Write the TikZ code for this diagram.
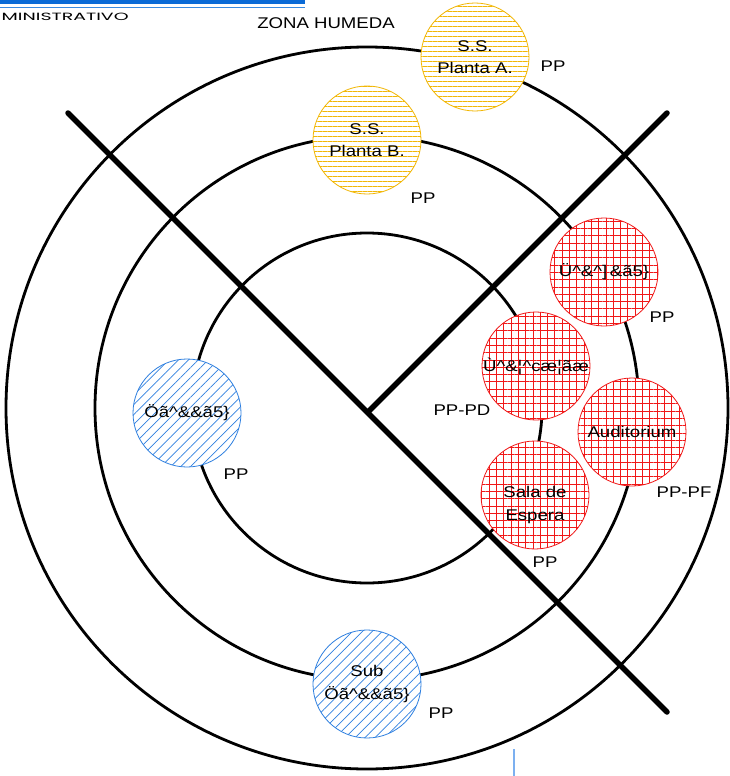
\documentclass[tikz,border=0pt]{standalone}
\usepackage{fontspec}
\setmainfont{Liberation Sans}[FakeStretch=1.2]
\newfontfamily\admfont{Poppins}
\usetikzlibrary{patterns.meta}
\definecolor{ringyellow}{HTML}{F2B705}
\definecolor{ringred}{HTML}{F01818}
\definecolor{ringblue}{HTML}{2F80E0}
\definecolor{barblue}{HTML}{0A6AD6}
\definecolor{thinblue}{HTML}{3A8AE0}
\definecolor{paleblue}{HTML}{7CB0F0}
\begin{document}
\begin{tikzpicture}[x=1pt,y=-1pt,
  ring/.style={line width=2.8pt},
  axisline/.style={line width=5.5pt, line cap=round},
  room/.style={circle, minimum size=108pt, inner sep=0pt, line width=0.8pt,
    fill=white, align=center, font=\fontsize{15.5}{22.5}\selectfont},
  yroom/.style={room, draw=ringyellow,
    postaction={pattern={Lines[angle=0,distance=5pt,line width=0.7pt]}, pattern color=ringyellow}},
  rroom/.style={room, draw=ringred,
    postaction={pattern={Hatch[angle=0,distance=7.3pt,line width=0.7pt]}, pattern color=ringred}},
  broom/.style={room, draw=ringblue,
    postaction={pattern={Lines[angle=45,distance=7pt,line width=0.7pt]}, pattern color=ringblue}},
  lbl/.style={inner sep=0pt, font=\fontsize{15.5}{19}\selectfont}
]
\useasboundingbox (0,0) rectangle (730,776);
\fill[white] (0,0) rectangle (730,776);

% header
\coordinate (bl) at (0,2);
\coordinate (br) at (305,2);
\coordinate (tl) at (0,7.5);
\coordinate (tr) at (305,7.5);
\draw[barblue, line width=4pt] (bl) -- (br);
\draw[thinblue, line width=1.2pt] (tl) -- (tr);
\node[anchor=west, inner sep=0pt] (adm) at (1.5,16.5)
  {\scalebox{1.8}[1]{\admfont\fontsize{10.5}{11}\selectfont MINISTRATIVO}};
\node[lbl] (zona) at (326,23) {ZONA HUMEDA};

% rings
\coordinate (c) at (367,408);
\draw[ring] (c) circle[radius=361];
\draw[ring] (c) circle[radius=272];
\draw[ring] (c) circle[radius=175];

% axes
\coordinate (a1) at (68,113);
\coordinate (a2) at (667,712);
\coordinate (j) at (368,412);
\coordinate (a3) at (667,113);
\draw[axisline] (a1) -- (a2);
\draw[axisline] (j) -- (a3);

% bottom thin line
\coordinate (v1) at (514,749);
\coordinate (v2) at (514,776);
\draw[paleblue, line width=1.3pt] (v1) -- (v2);

% rooms
\node[yroom] (ssa) at (475,57) {S.S.\\Planta A.};
\node[yroom] (ssb) at (367,140) {S.S.\\Planta B.};
\node[rroom] (rec) at (604,272) {Ü\textasciicircum\&\textasciicircum]\,\&ã5\}};
\node[rroom] (sec) at (536,366) {Ù\textasciicircum\&¦\textasciicircum cæ¦ãæ};
\node[rroom] (aud) at (632,432) {Auditorium};
\node[rroom] (sala) at (535,495) {};
\node[inner sep=0pt, align=center, font=\fontsize{15.5}{22.5}\selectfont] (salat) at (535,505) {Sala de\\Espera};
\node[broom] (dir) at (187,413) {Öã\textasciicircum\&\&ã5\}};
\node[broom] (sub) at (367,684) {Sub\\Öã\textasciicircum\&\&ã5\}};

% labels
\node[lbl] (pa) at (553,66) {PP};
\node[lbl] (pb) at (423,198) {PP};
\node[lbl] (pr) at (662,317) {PP};
\node[lbl] (ppd) at (462,410) {PP-PD};
\node[lbl] (ppf) at (684,492) {PP-PF};
\node[lbl] (ps) at (545,562) {PP};
\node[lbl] (pd) at (236,474) {PP};
\node[lbl] (psub) at (441,713) {PP};
\end{tikzpicture}
\end{document}
